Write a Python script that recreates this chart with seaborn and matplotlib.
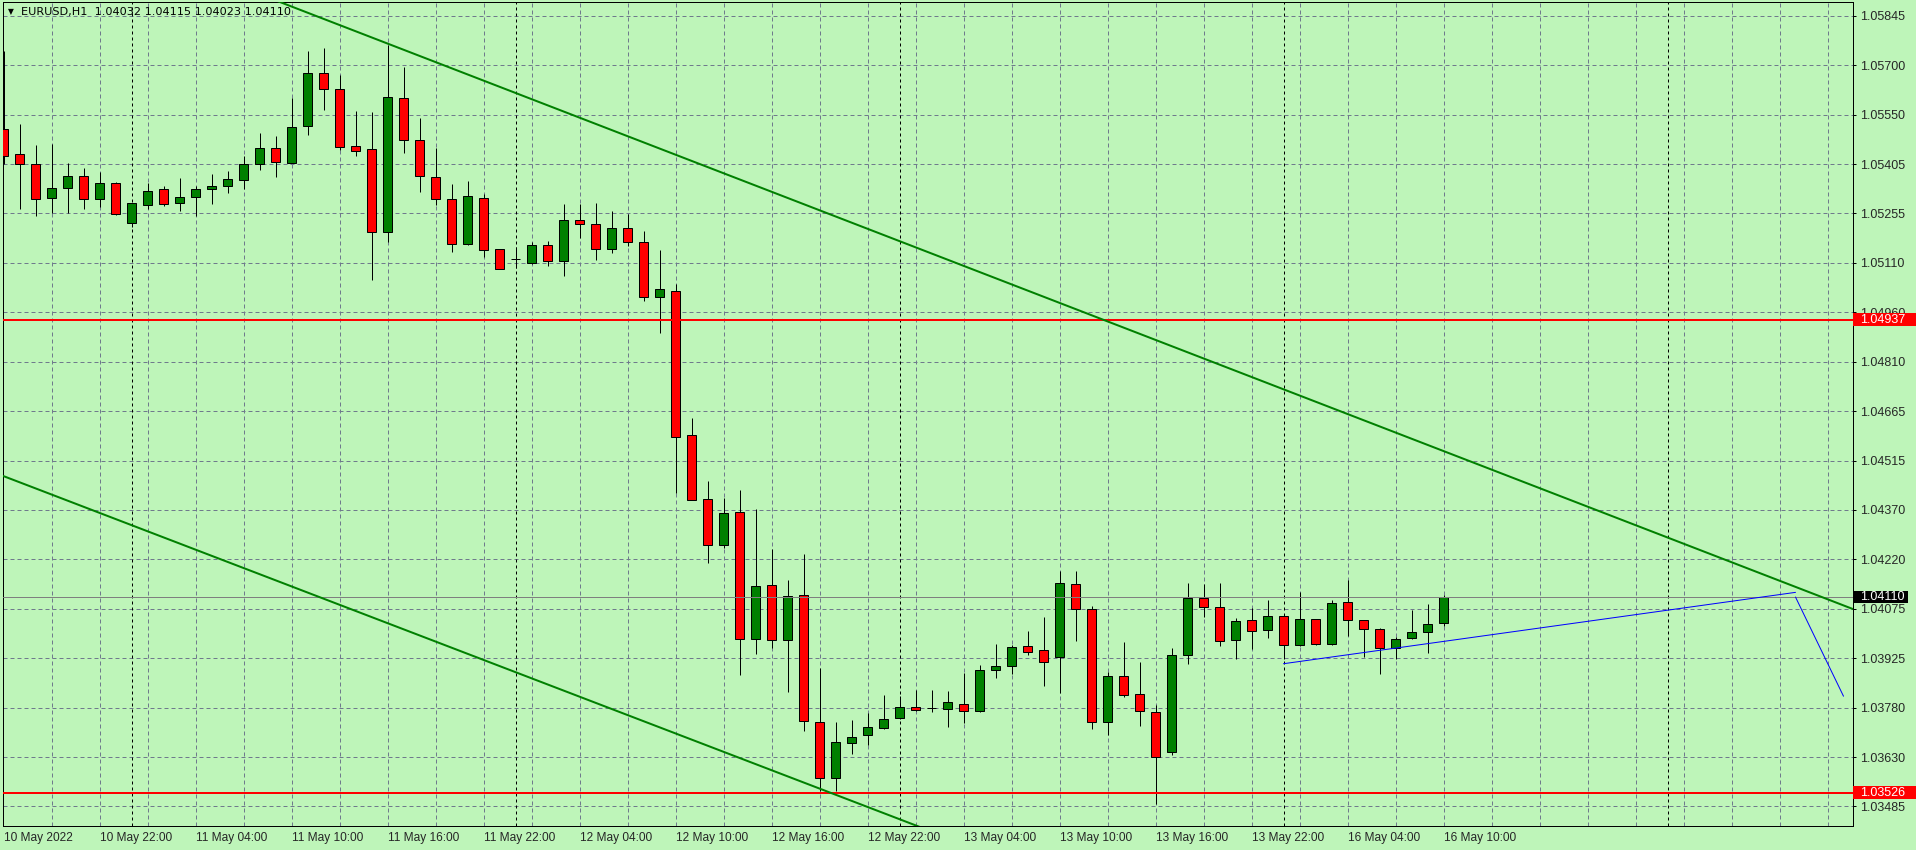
import matplotlib
matplotlib.use("Agg")
import matplotlib.pyplot as plt
import numpy as np
import pandas as pd
import seaborn as sns
from matplotlib.patches import Rectangle
from matplotlib.transforms import blended_transform_factory

# ---------------- data (EURUSD H1) ----------------
symbol = "EURUSD,H1"
open_p = [1.05508, 1.05431, 1.05404, 1.05302, 1.05332, 1.05368, 1.05299, 1.05347, 1.05228, 1.05279,
          1.05329, 1.05285, 1.05305, 1.05329, 1.05338, 1.05356, 1.05404, 1.05451, 1.05407, 1.05516,
          1.05675, 1.05627, 1.05457, 1.05448, 1.05201, 1.05600, 1.05475, 1.05365, 1.05299, 1.05165,
          1.05302, 1.05150, 1.05119, 1.05106, 1.05162, 1.05112, 1.05234, 1.05225, 1.05150, 1.05213,
          1.05171, 1.05007, 1.05025, 1.04593, 1.04402, 1.04265, 1.04364, 1.03985, 1.04146, 1.03982,
          1.04116, 1.03738, 1.03571, 1.03675, 1.03699, 1.03720, 1.03750, 1.03783, 1.03778, 1.03777,
          1.03792, 1.03771, 1.03893, 1.03905, 1.03964, 1.03952, 1.03932, 1.04149, 1.04075, 1.03738,
          1.03875, 1.03821, 1.03768, 1.03646, 1.03938, 1.04107, 1.04081, 1.03982, 1.04042, 1.04012,
          1.04054, 1.03966, 1.04045, 1.03970, 1.04095, 1.04042, 1.04015, 1.03958, 1.03988, 1.04006,
          1.04032]
high_p = [1.05741, 1.05523, 1.05458, 1.05461, 1.05407, 1.05392, 1.05378, 1.05349, 1.05286, 1.05346,
          1.05338, 1.05360, 1.05338, 1.05372, 1.05383, 1.05428, 1.05496, 1.05485, 1.05600, 1.05740,
          1.05749, 1.05669, 1.05562, 1.05559, 1.05758, 1.05693, 1.05541, 1.05451, 1.05344, 1.05351,
          1.05312, 1.05150, 1.05155, 1.05169, 1.05174, 1.05282, 1.05282, 1.05285, 1.05261, 1.05252,
          1.05202, 1.05145, 1.05043, 1.04644, 1.04456, 1.04405, 1.04429, 1.04373, 1.04252, 1.04161,
          1.04239, 1.03899, 1.03738, 1.03744, 1.03765, 1.03818, 1.03815, 1.03833, 1.03833, 1.03830,
          1.03884, 1.03908, 1.03970, 1.03967, 1.04009, 1.04051, 1.04188, 1.04188, 1.04084, 1.03887,
          1.03976, 1.03917, 1.03789, 1.03958, 1.04152, 1.04149, 1.04152, 1.04048, 1.04078, 1.04101,
          1.04054, 1.04125, 1.04045, 1.04101, 1.04161, 1.04042, 1.04018, 1.03991, 1.04072, 1.04090,
          1.04115]
low_p = [1.05404, 1.05267, 1.05248, 1.05255, 1.05256, 1.05267, 1.05273, 1.05250, 1.05215, 1.05267,
         1.05277, 1.05262, 1.05248, 1.05283, 1.05315, 1.05329, 1.05385, 1.05364, 1.05405, 1.05489,
         1.05563, 1.05445, 1.05428, 1.05055, 1.05170, 1.05435, 1.05319, 1.05280, 1.05140, 1.05161,
         1.05125, 1.05088, 1.05091, 1.05103, 1.05099, 1.05068, 1.05183, 1.05116, 1.05137, 1.05158,
         1.04994, 1.04899, 1.04422, 1.04399, 1.04213, 1.04256, 1.03877, 1.03939, 1.03957, 1.03826,
         1.03710, 1.03530, 1.03530, 1.03643, 1.03669, 1.03717, 1.03747, 1.03771, 1.03768, 1.03723,
         1.03735, 1.03768, 1.03869, 1.03881, 1.03938, 1.03844, 1.03824, 1.03978, 1.03717, 1.03699,
         1.03812, 1.03726, 1.03492, 1.03640, 1.03911, 1.04050, 1.03963, 1.03926, 1.03954, 1.03987,
         1.03926, 1.03963, 1.03966, 1.03966, 1.03993, 1.03932, 1.03880, 1.03926, 1.03985, 1.03942,
         1.04023]
close_p = [1.05428, 1.05404, 1.05299, 1.05332, 1.05368, 1.05299, 1.05347, 1.05252, 1.05285, 1.05323,
           1.05282, 1.05305, 1.05329, 1.05338, 1.05359, 1.05404, 1.05451, 1.05408, 1.05514, 1.05675,
           1.05627, 1.05454, 1.05442, 1.05201, 1.05603, 1.05475, 1.05368, 1.05299, 1.05165, 1.05308,
           1.05147, 1.05088, 1.05119, 1.05162, 1.05112, 1.05234, 1.05225, 1.05150, 1.05213, 1.05171,
           1.05007, 1.05031, 1.04587, 1.04399, 1.04265, 1.04361, 1.03985, 1.04143, 1.03982, 1.04113,
           1.03741, 1.03571, 1.03678, 1.03693, 1.03723, 1.03747, 1.03783, 1.03774, 1.03778, 1.03797,
           1.03771, 1.03893, 1.03905, 1.03961, 1.03946, 1.03917, 1.04152, 1.04075, 1.03738, 1.03875,
           1.03818, 1.03771, 1.03634, 1.03938, 1.04107, 1.04081, 1.03979, 1.04039, 1.04009, 1.04054,
           1.03966, 1.04045, 1.03970, 1.04092, 1.04042, 1.04015, 1.03958, 1.03985, 1.04006, 1.04030,
           1.04110]

x_labels = ["10 May 2022", "10 May 22:00", "11 May 04:00", "11 May 10:00", "11 May 16:00",
            "11 May 22:00", "12 May 04:00", "12 May 10:00", "12 May 16:00", "12 May 22:00",
            "13 May 04:00", "13 May 10:00", "13 May 16:00", "13 May 22:00", "16 May 04:00",
            "16 May 10:00"]
y_labels = ["1.05845", "1.05700", "1.05550", "1.05405", "1.05255", "1.05110", "1.04960", "1.04810",
            "1.04665", "1.04515", "1.04370", "1.04220", "1.04075", "1.03925", "1.03780", "1.03630",
            "1.03485"]
y_first_tick = 1.05845
y_tick_step = 0.001475
day_start_bars = [8, 32, 56, 80, 104]

resistance = 1.04937
support = 1.03526
bid = close_p[-1]

upper_x = [17.5, 115.6]
upper_y = [1.05882, 1.04074]
lower_x = [0.0, 23.35]
lower_y = [1.04471, 1.04044]
blue_up_x = [80, 112]
blue_up_y = [1.03911, 1.04124]
blue_dn_x = [112, 115]
blue_dn_y = [1.04110, 1.03814]

# ---------------- styling ----------------
W, H = 1916, 850
BG = "#BEF5B9"
GRID = "#6F7A8C"
UPC = "#008000"
DNC = "#FF0000"
PX = 72 / 100.0  # points per pixel

sns.set_style("white", {"axes.facecolor": BG, "figure.facecolor": BG})
plt.rcParams["font.family"] = ["DejaVu Sans"]

fig = plt.figure(figsize=(W / 100, H / 100), dpi=100, facecolor=BG)
L, R, T, B = 3, 1853, 2, 826
ax = fig.add_axes([L / W, 1 - B / H, (R - L) / W, (B - T) / H])
ax.set_facecolor(BG)

BAR_PX = 16.0
X0_PX = 3.5
xmin = (L - X0_PX) / BAR_PX
xmax = (R - X0_PX) / BAR_PX
ymin, ymax = 1.034266, 1.058862
ax.set_xlim(xmin, xmax)
ax.set_ylim(ymin, ymax)

df = pd.DataFrame({"open": open_p, "high": high_p, "low": low_p, "close": close_p})
df["bar"] = np.arange(len(df))
df["up"] = df["close"] >= df["open"]

# grid
ytick_pos = [y_first_tick - k * y_tick_step for k in range(len(y_labels))]
for xv in range(3, int(xmax) + 1, 3):
    ax.axvline(xv, color=GRID, lw=PX, dashes=(4, 3), zorder=1)
for yv in ytick_pos:
    ax.axhline(yv, color=GRID, lw=PX, dashes=(4, 3), zorder=1)
for xv in day_start_bars:
    ax.axvline(xv, color="black", lw=PX, dashes=(3, 3), zorder=1.5)

# candles
ax.vlines(df["bar"], df["low"], df["high"], color="black", lw=PX, zorder=3)
ax.bar(df["bar"], df["close"] - df["open"], bottom=df["open"], width=9.4 / BAR_PX,
       color=np.where(df["up"], UPC, DNC), edgecolor="black", linewidth=PX, zorder=4)

# horizontal lines
ax.axhline(resistance, color=DNC, lw=2 * PX, zorder=5)
ax.axhline(support, color=DNC, lw=2 * PX, zorder=5)
ax.axhline(bid, color="#7F7F7F", lw=PX, zorder=5)

# trend lines (drawn with seaborn)
def extend(xs, ys, x_a, x_b):
    s = (ys[1] - ys[0]) / (xs[1] - xs[0])
    return [x_a, x_b], [ys[0] + s * (x_a - xs[0]), ys[0] + s * (x_b - xs[0])]

ux, uy = extend(upper_x, upper_y, xmin, xmax)
lx, ly = extend(lower_x, lower_y, xmin, xmax)
sns.lineplot(x=ux, y=uy, ax=ax, color=UPC, lw=2 * PX, sort=False, estimator=None, zorder=6)
sns.lineplot(x=lx, y=ly, ax=ax, color=UPC, lw=2 * PX, sort=False, estimator=None, zorder=6)
sns.lineplot(x=blue_up_x, y=blue_up_y, ax=ax, color="#0000FF", lw=PX, sort=False, estimator=None, zorder=6)
sns.lineplot(x=blue_dn_x, y=blue_dn_y, ax=ax, color="#0000FF", lw=PX, sort=False, estimator=None, zorder=6)
ax.set_xlim(xmin, xmax)
ax.set_ylim(ymin, ymax)
ax.set_xlabel("")
ax.set_ylabel("")

# axes ticks
xt = list(range(0, 6 * len(x_labels), 6))
ax.set_xticks(xt)
ax.set_xticklabels(x_labels, ha="left", family="Liberation Sans", fontsize=8.6)
ax.tick_params(axis="x", length=4 * PX, width=PX, direction="out", pad=1.5, color="black")
ax.yaxis.tick_right()
ax.set_yticks(ytick_pos)
ax.set_yticklabels(y_labels, family="Liberation Sans", fontsize=9)
ax.tick_params(axis="y", length=3 * PX, width=PX, direction="out", pad=3, color="black")
for sp in ax.spines.values():
    sp.set_visible(True)
    sp.set_color("black")
    sp.set_linewidth(PX)
ax.grid(False)

# price boxes on the right axis
trans = blended_transform_factory(fig.transFigure, ax.transData)
pp = (ymax - ymin) / (B - T)

def price_box(price, face, x0, x1, hpx):
    r = Rectangle((x0 / W, price - hpx * pp / 2), (x1 - x0) / W, hpx * pp, transform=trans,
                  facecolor=face, edgecolor="none", zorder=10)
    fig.add_artist(r)
    fig.text(1860 / W, price, f"{price:.5f}", transform=trans, color="white", va="center",
             ha="left", family="Liberation Sans", fontsize=9, zorder=11)

price_box(resistance, DNC, 1853, 1916, 13)
price_box(support, DNC, 1853, 1916, 13)
price_box(bid, "black", 1854, 1908, 12)

# header
fig.text(8 / W, 1 - 12 / H, "\u25BC", fontsize=5.5, va="center", ha="left", color="black")
header = f"{symbol}  {open_p[-1]:.5f} {high_p[-1]:.5f} {low_p[-1]:.5f} {close_p[-1]:.5f}"
fig.text(21 / W, 1 - 12.5 / H, header, fontsize=8.1, va="center", ha="left", color="black")

fig.savefig("out.png", dpi=100, facecolor=BG)
